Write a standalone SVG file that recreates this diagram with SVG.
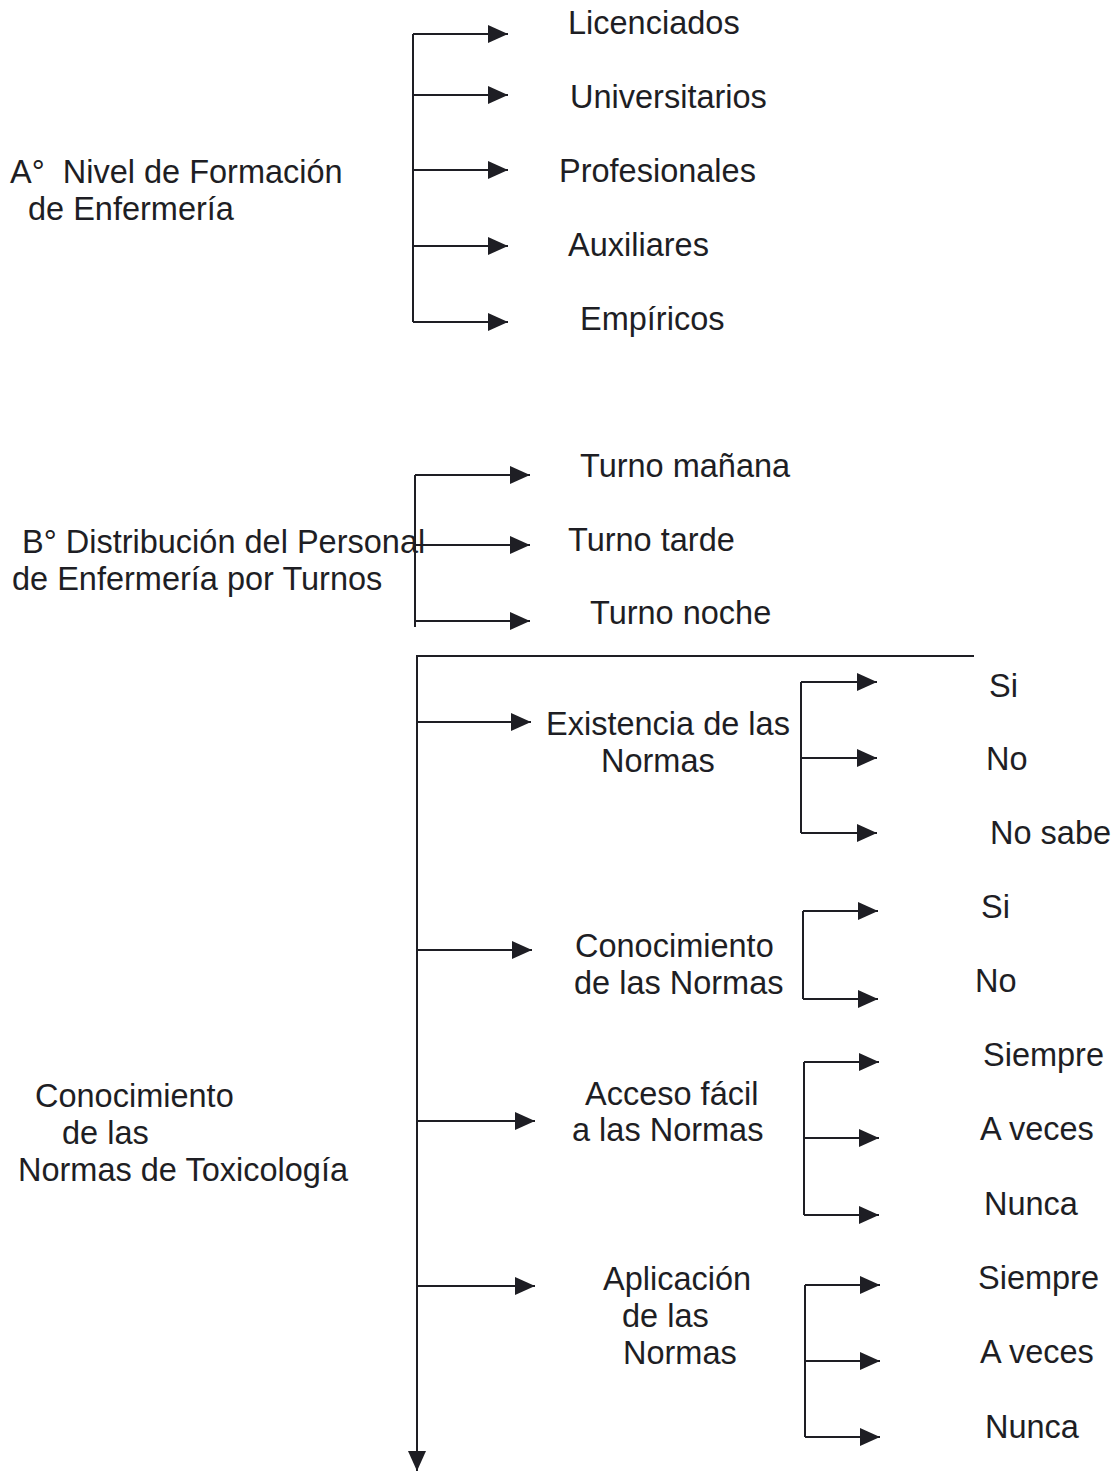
<svg xmlns="http://www.w3.org/2000/svg" width="1115" height="1473" viewBox="0 0 1115 1473">
<style>
text{font-family:"Liberation Sans",Arial,sans-serif;font-size:32.5px;fill:#1e1e24;white-space:pre}
.ln{stroke:#1e1e24;stroke-width:2;fill:none}
.ar{stroke:#1e1e24;stroke-width:2;fill:none;marker-end:url(#ah)}
</style>
<defs>
<marker id="ah" markerUnits="userSpaceOnUse" markerWidth="22" markerHeight="20" refX="20" refY="9" orient="auto">
<path d="M0,0 L20,9 L0,18 Z" fill="#1e1e24"/>
</marker>
</defs>
<rect width="1115" height="1473" fill="#ffffff"/>

<g id="connectors">
<path class="ln" d="M413,34 V322"/>
<path class="ar" d="M413,34 H508"/>
<path class="ar" d="M413,95 H508"/>
<path class="ar" d="M413,170 H508"/>
<path class="ar" d="M413,246 H508"/>
<path class="ar" d="M413,322 H508"/>

<path class="ln" d="M415,475 V627"/>
<path class="ar" d="M415,475 H530"/>
<path class="ar" d="M415,545 H530"/>
<path class="ar" d="M415,621 H530"/>

<path class="ln" d="M416,656 H974"/>
<path class="ar" d="M417,656 V1471"/>
<path class="ar" d="M417,722 H531"/>
<path class="ar" d="M418,950 H532"/>
<path class="ar" d="M418,1121 H535"/>
<path class="ar" d="M418,1286 H535"/>

<path class="ln" d="M801,682 V833"/>
<path class="ar" d="M801,682 H877"/>
<path class="ar" d="M801,758 H877"/>
<path class="ar" d="M801,833 H877"/>

<path class="ln" d="M803,911 V999"/>
<path class="ar" d="M803,911 H878"/>
<path class="ar" d="M803,999 H878"/>

<path class="ln" d="M804,1062 V1215"/>
<path class="ar" d="M804,1062 H879"/>
<path class="ar" d="M804,1138 H879"/>
<path class="ar" d="M804,1215 H879"/>

<path class="ln" d="M805,1285 V1437"/>
<path class="ar" d="M805,1285 H880"/>
<path class="ar" d="M805,1361 H880"/>
<path class="ar" d="M805,1437 H880"/>
</g>

<g id="nodeA">
<text x="10" y="183">A°  Nivel de Formación</text>
<text x="28" y="220">de Enfermería</text>
</g>
<g id="licenciados"><text x="568" y="34">Licenciados</text></g>
<g id="universitarios"><text x="570" y="108">Universitarios</text></g>
<g id="profesionales"><text x="559" y="182">Profesionales</text></g>
<g id="auxiliares"><text x="568" y="256">Auxiliares</text></g>
<g id="empiricos"><text x="580" y="330">Empíricos</text></g>

<g id="nodeB">
<text x="22" y="553">B° Distribución del Personal</text>
<text x="12" y="590">de Enfermería por Turnos</text>
</g>
<g id="manana"><text x="580" y="477">Turno mañana</text></g>
<g id="tarde"><text x="568" y="551">Turno tarde</text></g>
<g id="noche"><text x="590" y="624">Turno noche</text></g>

<g id="nodeC">
<text x="35" y="1107">Conocimiento</text>
<text x="62" y="1144">de las</text>
<text x="18" y="1181">Normas de Toxicología</text>
</g>

<g id="existencia">
<text x="546" y="735">Existencia de las</text>
<text x="601" y="772">Normas</text>
</g>
<g id="ex-si"><text x="989" y="697">Si</text></g>
<g id="ex-no"><text x="986" y="770">No</text></g>
<g id="ex-nosabe"><text x="990" y="844">No sabe</text></g>

<g id="conocimiento">
<text x="575" y="957">Conocimiento</text>
<text x="574" y="994">de las Normas</text>
</g>
<g id="co-si"><text x="981" y="918">Si</text></g>
<g id="co-no"><text x="975" y="992">No</text></g>

<g id="acceso">
<text x="585" y="1105">Acceso fácil</text>
<text x="572" y="1141">a las Normas</text>
</g>
<g id="ac-siempre"><text x="983" y="1066">Siempre</text></g>
<g id="ac-aveces"><text x="980" y="1140">A veces</text></g>
<g id="ac-nunca"><text x="984" y="1215">Nunca</text></g>

<g id="aplicacion">
<text x="603" y="1290">Aplicación</text>
<text x="622" y="1327">de las</text>
<text x="623" y="1364">Normas</text>
</g>
<g id="ap-siempre"><text x="978" y="1289">Siempre</text></g>
<g id="ap-aveces"><text x="980" y="1363">A veces</text></g>
<g id="ap-nunca"><text x="985" y="1438">Nunca</text></g>
</svg>
